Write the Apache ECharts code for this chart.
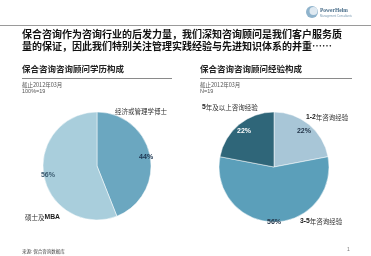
<!DOCTYPE html>
<html><head><meta charset="utf-8">
<script src="https://cdn.jsdelivr.net/npm/echarts@6/dist/echarts.min.js"></script>
<style>html,body{margin:0;padding:0;background:#fff}#c{width:371px;height:256px}</style>
</head><body><div id="c"></div>
<script>
// Data
const eduNames = ['经济或管理学博士', '硕士及MBA'];
const eduValues = [44, 56];
const expNames = ['1-2年咨询经验', '3-5年咨询经验', '5年及以上咨询经验'];
const expValues = [22, 56, 22];
const headline = ['保合咨询作为咨询行业的后发力量，我们深知咨询顾问是我们客户服务质', '量的保证，因此我们特别关注管理实践经验与先进知识体系的并重……'];
const leftTitle = '保合咨询咨询顾问学历构成';
const rightTitle = '保合咨询咨询顾问经验构成';
const dateNote = '截止2012年03月';
const leftBase = '100%=19';
const rightBase = 'N=19';
const source = '来源: 保合咨询数据库';

const eduColors = ['#6ba7c0', '#a9cedc'];
const expColors = ['#a8c6d7', '#5b9fba', '#2f6679'];
const eduLabelColors = ['#1d3550', '#3b5b70'];
const expLabelColors = ['#24364a', '#24364a', '#ffffff'];

const CJK = '"Noto Sans CJK SC", sans-serif';
const LAT = '"Liberation Sans", Arial, sans-serif';
const chart = echarts.init(document.getElementById('c'), null, {renderer: 'canvas'});

function pieSeries(names, values, colors, center, r) {
  return {
    type: 'pie', center: center, radius: [0, r], startAngle: 90, clockwise: true,
    silent: true, animation: false,
    label: {show: false}, labelLine: {show: false},
    itemStyle: {borderColor: '#fff', borderWidth: 0.5},
    data: names.map((n, i) => ({name: n, value: values[i], itemStyle: {color: colors[i]}}))
  };
}
function labelSeries(names, values, lblColors, center, r0, r1, offsets) {
  return {
    type: 'pie', center: center, radius: [r0, r1], startAngle: 90, clockwise: true,
    silent: true, animation: false, z: 5,
    itemStyle: {color: 'rgba(0,0,0,0)'},
    labelLine: {show: false},
    label: {show: true, position: 'inside', formatter: '{c}%', fontSize: 7, fontWeight: 'bold', fontFamily: LAT},
    data: names.map((n, i) => ({name: n, value: values[i], label: {color: lblColors[i], offset: offsets[i]}}))
  };
}

const txt = (x, y, s, size, opts) => Object.assign({
  type: 'text', left: x, top: y,
  style: Object.assign({text: s, fontSize: size, fontFamily: CJK, fill: '#333'}, opts || {})
});
// label with leading latin digits bold
const catLabel = (x, y, s) => {
  const m = s.match(/^([0-9\-]+)(.*)$/) || s.match(/^(.*?)([A-Z]+)$/);
  let text;
  if (/^[0-9]/.test(s)) text = '{b|' + m[1] + '}{n|' + m[2] + '}';
  else if (m) text = '{n|' + m[1] + '}{b|' + m[2] + '}';
  else text = '{n|' + s + '}';
  return {
    type: 'text', left: x, top: y,
    style: {text: text, rich: {
      b: {fontSize: 6.8, fontWeight: 'bold', fontFamily: LAT, fill: '#1a1a1a'},
      n: {fontSize: 6.5, fontFamily: CJK, fill: '#333'}
    }}
  };
};
const line = (x1, y1, x2, y2, color, w) => ({type: 'line', shape: {x1, y1, x2, y2}, style: {stroke: color, lineWidth: w}});

chart.setOption({
  backgroundColor: '#fff',
  animation: false,
  series: [
    pieSeries(eduNames, eduValues, eduColors, [97, 166], 54),
    labelSeries(eduNames, eduValues, eduLabelColors, [97, 166], 40, 54, [[0, 0], [0, 0]]),
    pieSeries(expNames, expValues, expColors, [274, 167], 55),
    labelSeries(expNames, expValues, expLabelColors, [274, 167], 33, 55, [[0, 0], [0, 8], [0, 0]])
  ],
  graphic: [
    // header rule and logo
    line(0, 25.5, 371, 25.5, '#9a9a9a', 1),
    {type: 'circle', shape: {cx: 312, cy: 12, r: 6}, style: {fill: '#8fb3cc'}},
    {type: 'circle', shape: {cx: 313.5, cy: 11, r: 4}, style: {fill: '#dfe9f1'}},
    txt(320, 8, 'PowerHelm', 5.5, {fontFamily: 'Liberation Serif, serif', fill: '#4a6e8a', fontWeight: 'bold'}),
    txt(320, 14.5, 'Management Consultants', 2.8, {fontFamily: LAT, fill: '#7a9ab2'}),
    // headline
    txt(22, 29, headline[0], 10, {fontWeight: 'bold', fill: '#111'}),
    txt(22, 41, headline[1], 10, {fontWeight: 'bold', fill: '#111'}),
    // section titles
    txt(22, 65, leftTitle, 8.5, {fontWeight: 'bold', fill: '#222'}),
    line(22, 78.5, 172, 78.5, '#8a8a8a', 1),
    txt(22, 82, dateNote, 5.5, {fill: '#555'}),
    txt(22, 88.5, leftBase, 5.5, {fill: '#555', fontFamily: LAT}),
    txt(200, 65, rightTitle, 8.5, {fontWeight: 'bold', fill: '#222'}),
    line(200, 78.5, 352, 78.5, '#8a8a8a', 1),
    txt(200, 82, dateNote, 5.5, {fill: '#555'}),
    txt(200, 88.5, rightBase, 5.5, {fill: '#555', fontFamily: LAT}),
    // category labels
    catLabel(115, 108, eduNames[0]),
    catLabel(25, 214, eduNames[1]),
    catLabel(202, 104, expNames[2]),
    catLabel(306, 114, expNames[0]),
    catLabel(300, 218, expNames[1]),
    // footer
    txt(22, 249, source, 4.5, {fill: '#444'}),
    txt(347, 247, '1', 5, {fill: '#777', fontFamily: LAT})
  ]
});
</script></body></html>
